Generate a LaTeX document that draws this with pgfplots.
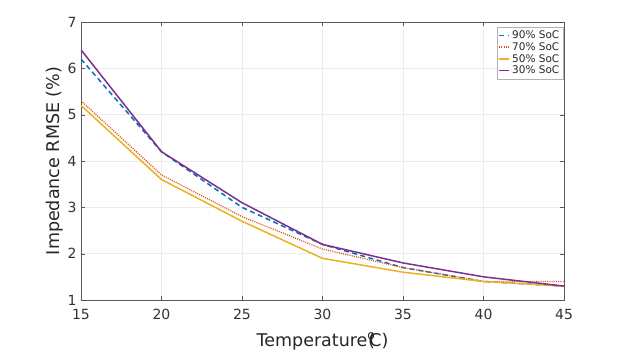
\documentclass[border=0pt]{standalone}
\usepackage{fontspec}
\setmainfont{DejaVu Sans}
\usepackage{pgfplots}
\pgfplotsset{compat=1.18}
\definecolor{mblue}{rgb}{0,0.447,0.741}
\definecolor{morange}{rgb}{0.85,0.325,0.098}
\definecolor{myellow}{rgb}{0.929,0.694,0.125}
\definecolor{mpurple}{rgb}{0.494,0.184,0.556}
\begin{document}
\begin{tikzpicture}
\begin{axis}[
    at={(0,0)}, anchor=south west,
    scale only axis,
    width=483pt, height=278pt,
    xmin=15, xmax=45, ymin=1, ymax=7,
    xtick={15,20,...,45}, ytick={1,...,7},
    grid=major,
    grid style={gray!15, line width=0.4pt},
    axis line style={gray!70!black, line width=0.5pt},
    tick style={gray!70!black},
    tick align=inside,
    major tick length=4pt,
    /pgf/number format/assume math mode=true,
    ticklabel style={font=\fontsize{14}{16}\selectfont, text=black!80},
    xticklabel style={yshift=-6pt},
    yticklabel style={xshift=-1pt},
    xlabel={Temperature\textsuperscript{o}\kern-0.42em(\kern-0.32em C)},
    ylabel={Impedance RMSE (\%)},
    label style={font=\fontsize{17.5}{20}\selectfont, text=black!85},
    xlabel style={yshift=-6pt},
    ylabel style={yshift=-2pt},
    legend style={at={(0.998,0.982)}, anchor=north east,
        font=\fontsize{10.5}{12}\selectfont, draw=gray!60, fill=white,
        inner sep=1.5pt, row sep=-1.5pt, text=black!85},
    legend cell align=left,
    legend image post style={xscale=0.6},
]
\addplot[mblue, line width=1.5pt, dash pattern=on 5pt off 3.5pt] coordinates {
(15,6.2) (20,4.2) (25,3.0) (30,2.2) (35,1.7) (40,1.4) (45,1.3)};
\addlegendentry{90\% SoC}
\addplot[morange, line width=1.3pt, dash pattern=on 1pt off 1.2pt] coordinates {
(15,5.3) (20,3.7) (25,2.8) (30,2.1) (35,1.7) (40,1.4) (45,1.4)};
\addlegendentry{70\% SoC}
\addplot[myellow, line width=1.5pt] coordinates {
(15,5.2) (20,3.6) (25,2.7) (30,1.9) (35,1.6) (40,1.4) (45,1.3)};
\addlegendentry{50\% SoC}
\addplot[mpurple, line width=1.5pt] coordinates {
(15,6.4) (20,4.2) (25,3.1) (30,2.2) (35,1.8) (40,1.5) (45,1.3)};
\addlegendentry{30\% SoC}
\end{axis}
\path[use as bounding box] (-81pt,-51pt) rectangle (542pt,300pt);
\end{tikzpicture}
\end{document}
